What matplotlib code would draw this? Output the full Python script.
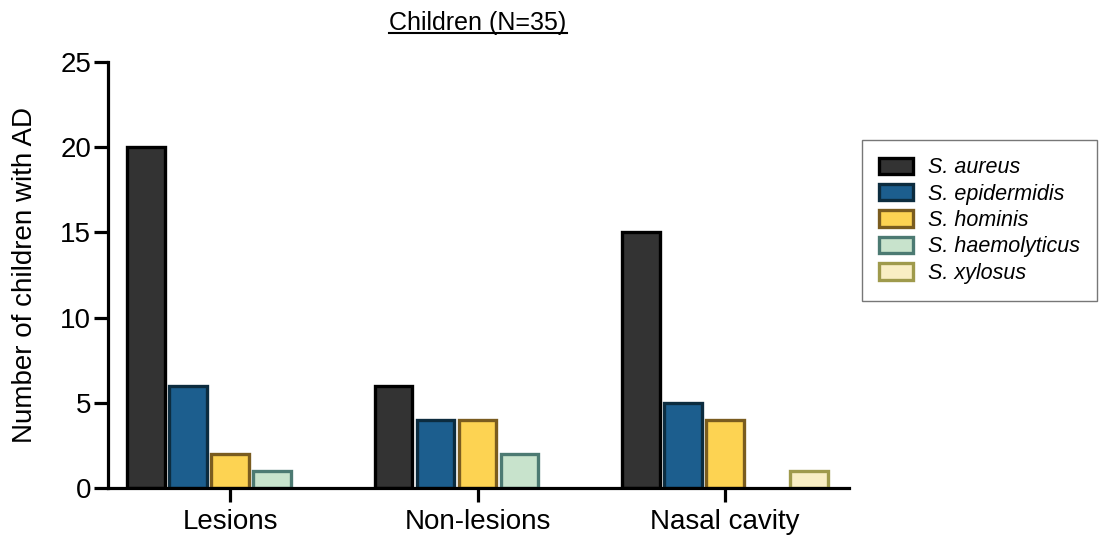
import numpy as np
import matplotlib
matplotlib.use("Agg")
import matplotlib.pyplot as plt
from matplotlib.lines import Line2D
from matplotlib.patches import Patch

plt.rcParams['font.family'] = ['Liberation Sans', 'DejaVu Sans']

# data
sites = ['Lesions', 'Non-lesions', 'Nasal cavity']
species = ['S. aureus', 'S. epidermidis', 'S. hominis', 'S. haemolyticus', 'S. xylosus']
aureus = [20, 6, 15]
epidermidis = [6, 4, 5]
hominis = [2, 4, 4]
haemolyticus = [1, 2, 0]
xylosus = [0, 0, 1]
counts = [aureus, epidermidis, hominis, haemolyticus, xylosus]

faces = ['#333333', '#1c5e8e', '#fdd352', '#c8e3cc', '#f9eec4']
edges = ['#000000', '#0c2c3f', '#7a5c1f', '#4c7a72', '#9f9a4c']

fig = plt.figure(figsize=(11.03, 5.38), dpi=100)
ax = fig.add_axes([108 / 1103, 50 / 538, 741 / 1103, 426 / 538])

x = np.arange(len(sites))
pitch = 0.17
width = 0.152
for i, (vals, fc, ec) in enumerate(zip(counts, faces, edges)):
    bars = ax.bar(x + (i - 2) * pitch, vals, width, color=fc, edgecolor=ec,
                  linewidth=2.4)
    # empty categories are not drawn at all
    for b, v in zip(bars, vals):
        if v == 0:
            b.set_visible(False)

ax.set_xlim(-0.493, 2.501)
ax.set_ylim(0, 25)
ax.set_yticks([0, 5, 10, 15, 20, 25])
ax.set_xticks(x)
ax.set_xticklabels(sites)
ax.spines['top'].set_visible(False)
ax.spines['right'].set_visible(False)
for s in ['left', 'bottom']:
    ax.spines[s].set_linewidth(2.3)
ax.tick_params(axis='both', width=2.3, length=10, labelsize=20, pad=2)
ax.tick_params(axis='x', pad=5)
ax.set_ylabel('Number of children with AD', fontsize=20, labelpad=16)

# title with underline
title = fig.text(478 / 1103, 1 - 23 / 538, 'Children (N=35)', fontsize=18,
                 ha='center', va='center')
fig.canvas.draw()
bb = title.get_window_extent(fig.canvas.get_renderer())
inv = fig.transFigure.inverted()
(x0, y0), (x1, _) = inv.transform([[bb.x0, bb.y0], [bb.x1, bb.y1]])
fig.add_artist(Line2D([x0, x1], [y0 + 0.003, y0 + 0.003], color='black',
                      lw=1.5, transform=fig.transFigure))

handles = [Patch(facecolor=fc, edgecolor=ec, linewidth=2.4, label=s)
           for fc, ec, s in zip(faces, edges, species)]
leg = fig.legend(handles=handles, loc='upper left',
                 bbox_to_anchor=(862 / 1103, 1 - 140 / 538),
                 prop={'style': 'italic', 'size': 15.5}, frameon=True,
                 fancybox=False, edgecolor='#555555', handlelength=1.55,
                 handleheight=0.8, labelspacing=0.25, borderpad=0.8,
                 handletextpad=0.7, borderaxespad=0)
leg.get_frame().set_linewidth(1.0)

fig.savefig('out.png', dpi=100)
